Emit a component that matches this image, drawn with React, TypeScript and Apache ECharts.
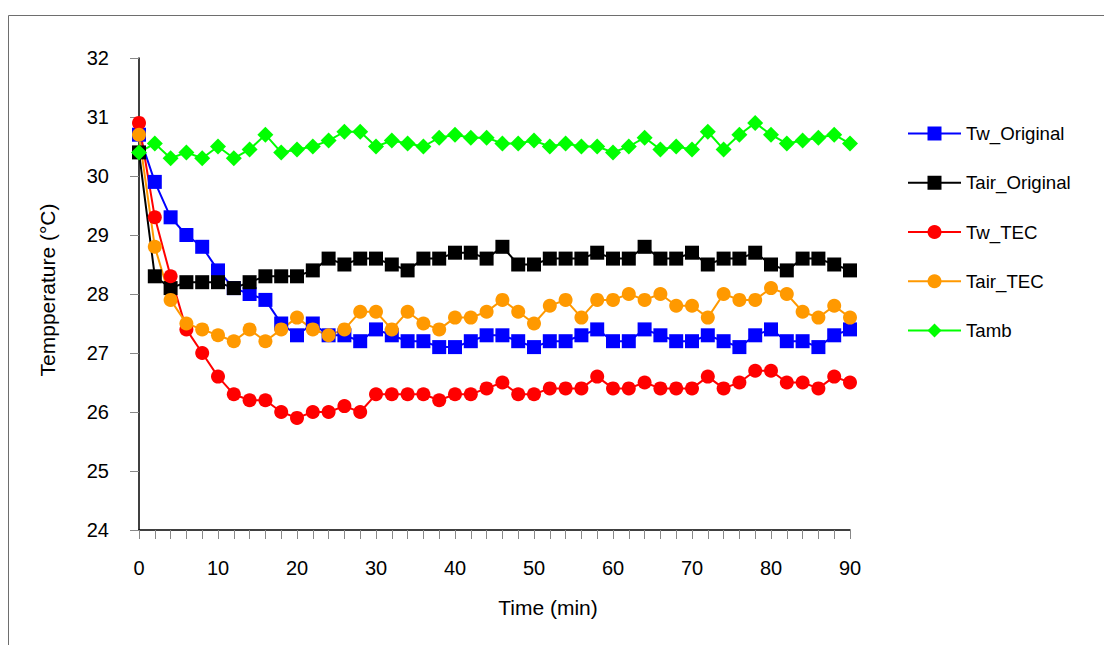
import React, { useEffect, useRef } from "react";
import * as echarts from "echarts";

const timeMin = [0, 2, 4, 6, 8, 10, 12, 14, 16, 18, 20, 22, 24, 26, 28, 30, 32, 34, 36, 38, 40, 42, 44, 46, 48, 50, 52, 54, 56, 58, 60, 62, 64, 66, 68, 70, 72, 74, 76, 78, 80, 82, 84, 86, 88, 90];

const twOriginal = [30.7, 29.9, 29.3, 29.0, 28.8, 28.4, 28.1, 28.0, 27.9, 27.5, 27.3, 27.5, 27.3, 27.3, 27.2, 27.4, 27.3, 27.2, 27.2, 27.1, 27.1, 27.2, 27.3, 27.3, 27.2, 27.1, 27.2, 27.2, 27.3, 27.4, 27.2, 27.2, 27.4, 27.3, 27.2, 27.2, 27.3, 27.2, 27.1, 27.3, 27.4, 27.2, 27.2, 27.1, 27.3, 27.4];
const tairOriginal = [30.4, 28.3, 28.1, 28.2, 28.2, 28.2, 28.1, 28.2, 28.3, 28.3, 28.3, 28.4, 28.6, 28.5, 28.6, 28.6, 28.5, 28.4, 28.6, 28.6, 28.7, 28.7, 28.6, 28.8, 28.5, 28.5, 28.6, 28.6, 28.6, 28.7, 28.6, 28.6, 28.8, 28.6, 28.6, 28.7, 28.5, 28.6, 28.6, 28.7, 28.5, 28.4, 28.6, 28.6, 28.5, 28.4];
const twTEC = [30.9, 29.3, 28.3, 27.4, 27.0, 26.6, 26.3, 26.2, 26.2, 26.0, 25.9, 26.0, 26.0, 26.1, 26.0, 26.3, 26.3, 26.3, 26.3, 26.2, 26.3, 26.3, 26.4, 26.5, 26.3, 26.3, 26.4, 26.4, 26.4, 26.6, 26.4, 26.4, 26.5, 26.4, 26.4, 26.4, 26.6, 26.4, 26.5, 26.7, 26.7, 26.5, 26.5, 26.4, 26.6, 26.5];
const tairTEC = [30.7, 28.8, 27.9, 27.5, 27.4, 27.3, 27.2, 27.4, 27.2, 27.4, 27.6, 27.4, 27.3, 27.4, 27.7, 27.7, 27.4, 27.7, 27.5, 27.4, 27.6, 27.6, 27.7, 27.9, 27.7, 27.5, 27.8, 27.9, 27.6, 27.9, 27.9, 28.0, 27.9, 28.0, 27.8, 27.8, 27.6, 28.0, 27.9, 27.9, 28.1, 28.0, 27.7, 27.6, 27.8, 27.6];
const tamb = [30.4, 30.55, 30.3, 30.4, 30.3, 30.5, 30.3, 30.45, 30.7, 30.4, 30.45, 30.5, 30.6, 30.75, 30.75, 30.5, 30.6, 30.55, 30.5, 30.65, 30.7, 30.65, 30.65, 30.55, 30.55, 30.6, 30.5, 30.55, 30.5, 30.5, 30.4, 30.5, 30.65, 30.45, 30.5, 30.45, 30.75, 30.45, 30.7, 30.9, 30.7, 30.55, 30.6, 30.65, 30.7, 30.55];

const seriesNames = ["Tw_Original", "Tair_Original", "Tw_TEC", "Tair_TEC", "Tamb"];
const seriesValues = [twOriginal, tairOriginal, twTEC, tairTEC, tamb];
const seriesColors = ["#0000FF", "#000000", "#FF0000", "#FF9900", "#00FF00"];
const seriesSymbols = ["rect", "rect", "circle", "circle", "diamond"];
const seriesSymbolSizes = [14, 14, 14, 14, 16];

const xAxisTitle = "Time (min)";
const yAxisTitle = "Tempperature (°C)";

const FONT = "Liberation Sans, Arial, sans-serif";

export default function App() {
  const ref = useRef<HTMLDivElement>(null);
  useEffect(() => {
    if (!ref.current) return;
    const chart = echarts.init(ref.current, null, { renderer: "svg" });
    const series = seriesNames.map((name, i) => ({
      name,
      type: "line",
      data: timeMin.map((t, j) => [t, seriesValues[i][j]]),
      symbol: seriesSymbols[i],
      symbolSize: seriesSymbolSizes[i],
      showAllSymbol: true,
      color: seriesColors[i],
      itemStyle: { color: seriesColors[i] },
      lineStyle: { color: seriesColors[i], width: 2 },
      emphasis: { disabled: true },
    }));
    chart.setOption({
      animation: false,
      backgroundColor: "#ffffff",
      textStyle: { fontFamily: FONT },
      graphic: [
        {
          type: "rect",
          shape: { x: 8.5, y: 15.5, width: 1200, height: 700 },
          style: { fill: "none", stroke: "#6e6e6e", lineWidth: 1 },
          silent: true,
        },
        {
          type: "text",
          x: 548,
          y: 607,
          style: {
            text: xAxisTitle,
            fontFamily: FONT,
            fontSize: 21,
            fill: "#000",
            align: "center",
            verticalAlign: "middle",
          },
          silent: true,
        },
      ],
      grid: { left: 139, top: 58, right: 254, bottom: 115 },
      legend: {
        orient: "vertical",
        left: 902,
        top: 119,
        itemWidth: 53,
        itemHeight: 17.5,
        itemGap: 30.25,
        data: seriesNames,
        textStyle: { fontFamily: FONT, fontSize: 18.67, color: "#000" },
      },
      xAxis: {
        type: "value",
        min: 0,
        max: 90,
        interval: 10,
        axisLine: { show: true, lineStyle: { color: "#000", width: 1.5 } },
        axisTick: { show: true, length: 9, lineStyle: { color: "#888" } },
        minorTick: { show: true, splitNumber: 5, length: 9, lineStyle: { color: "#888" } },
        splitLine: { show: false },
        axisLabel: { fontFamily: FONT, fontSize: 20, color: "#000", margin: 28 },
      },
      yAxis: {
        type: "value",
        min: 24,
        max: 32,
        interval: 1,
        name: yAxisTitle,
        nameLocation: "middle",
        nameGap: 81,
        nameTextStyle: { fontFamily: FONT, fontSize: 21, color: "#000", padding: [0, 0, 0, 8] },
        axisLine: { show: true, lineStyle: { color: "#000", width: 1.5 } },
        axisTick: { show: true, length: 9, lineStyle: { color: "#888" } },
        splitLine: { show: false },
        axisLabel: { fontFamily: FONT, fontSize: 20, color: "#000", margin: 30 },
      },
      series,
    });
    return () => chart.dispose();
  }, []);
  return (
    <div
      ref={ref}
      style={{ position: "absolute", left: 0, top: 0, width: 1104, height: 645 }}
    />
  );
}
